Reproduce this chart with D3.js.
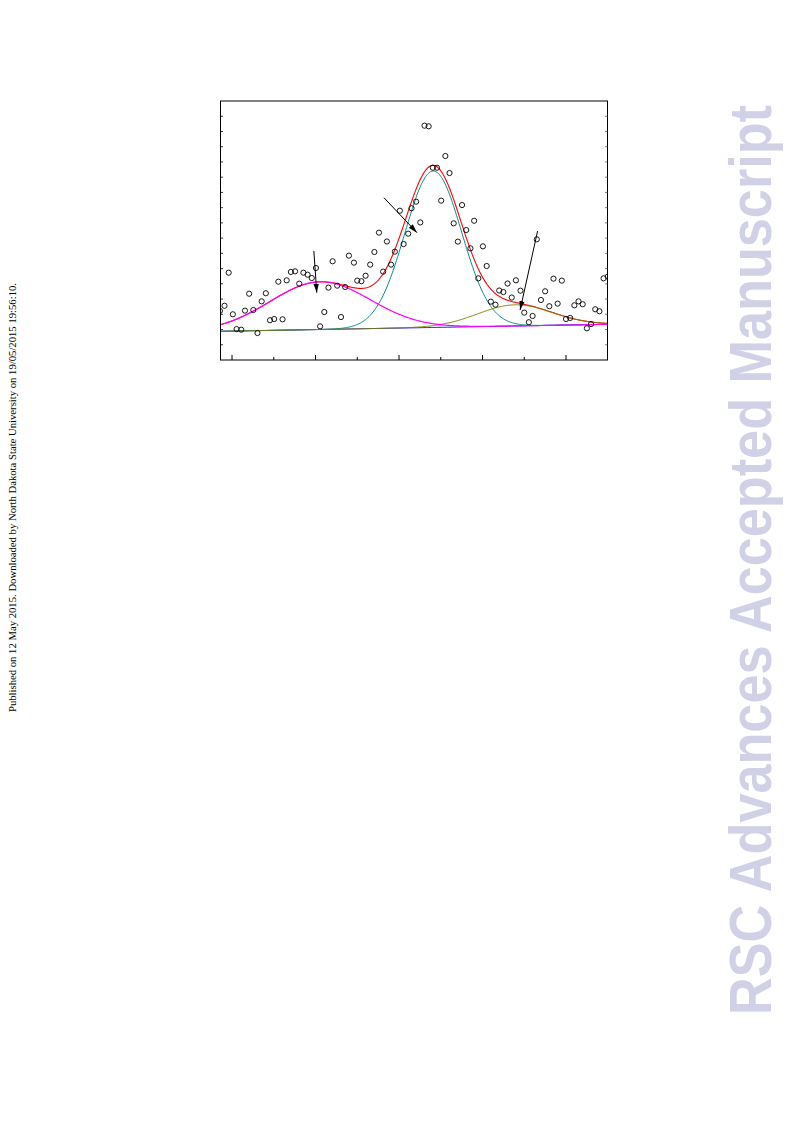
<!DOCTYPE html>
<html>
<head>
<meta charset="utf-8">
<script src="https://cdn.jsdelivr.net/npm/d3@7"></script>
<style>
  html, body { margin: 0; padding: 0; background: #fff; }
  svg { display: block; }
</style>
</head>
<body>
<script>
// ---- data ----
const xValues = [0.71,0.82,0.92,1.02,1.11,1.22,1.31,1.41,1.51,1.61,
  1.71,1.81,1.91,2.01,2.11,2.21,2.31,2.41,2.51,2.61,
  2.71,2.81,2.91,3.01,3.11,3.21,3.31,3.41,3.52,3.61,
  3.71,3.80,3.92,4.00,4.10,4.20,4.31,4.41,4.52,4.62,
  4.71,4.81,4.90,5.02,5.11,5.22,5.30,5.41,5.51,5.61,
  5.71,5.81,5.91,6.01,6.11,6.21,6.31,6.41,6.51,6.61,
  6.71,6.80,6.90,7.01,7.10,7.20,7.31,7.40,7.50,7.60,
  7.70,7.80,7.91,8.00,8.11,8.20,8.30,8.40,8.50,8.60,
  8.70,8.80,8.90,9.00,9.10,9.20,9.30,9.40,9.50,9.60,
  9.70,9.80,9.90,10.00];
const yValues = [3.22,3.56,5.73,3.00,2.03,1.99,3.24,4.35,3.28,1.77,
  3.85,4.38,2.61,2.69,5.14,2.67,5.23,5.78,5.82,5.01,
  5.73,5.60,5.38,6.04,2.21,3.15,4.75,6.48,4.88,2.82,
  4.79,6.85,6.39,5.21,5.17,5.53,6.26,7.09,8.36,5.80,
  7.78,6.26,7.11,9.80,7.61,8.29,9.96,10.39,9.03,15.38,
  15.34,12.62,12.62,10.46,13.39,12.27,8.97,7.77,10.17,8.53,
  7.33,9.14,5.36,7.46,6.17,3.83,3.63,4.56,4.46,5.02,
  4.10,5.23,4.55,3.11,2.48,2.89,7.92,3.94,4.51,3.53,
  5.34,3.70,5.21,2.69,2.76,3.59,3.85,3.66,2.08,2.36,
  3.33,3.20,5.36,5.47];

// fitted components: linear baseline + three Gaussian peaks
const baselineIntercept = 1.849;
const baselineSlope = 0.0494;
const peakNames   = ["left", "middle", "right"];
const peakCenters = [3.11, 5.82, 7.78];
const peakAmps    = [3.13, 10.27, 1.39];
const peakSigmas  = [1.20, 0.68, 0.89];
const peakColors  = ["#ff00ff", "#008b8b", "#808000"];

// x tick values (odd = long ticks), y tick values
const xTicks = [1,2,3,4,5,6,7,8,9];
const yTicks = [1,2,3,4,5,6,7,8,9,10,11,12,13,14,15,16];

// arrows: [x0, y0, x1, y1] in data units
const arrows = [
  [2.96, 7.16, 3.03, 4.42],
  [4.64, 10.65, 5.43, 8.36],
  [8.32, 8.47, 7.90, 3.28]
];

const sideNote = "Published on 12 May 2015. Downloaded by North Dakota State University on 19/05/2015 19:56:10.";
const watermark = "RSC Advances Accepted Manuscript";

// ---- drawing ----
const W = 793, H = 1123;
const L = 220.5, R = 607.5, T = 101, B = 360;

const svg = d3.select("body").append("svg").attr("width", W).attr("height", H);

const x = d3.scaleLinear().domain([0.712, 10.0]).range([220, 607.75]);
const y = d3.scaleLinear().domain([0, 17]).range([B, T]);

svg.append("defs").append("clipPath").attr("id", "plotclip")
  .append("rect").attr("x", L).attr("y", T).attr("width", R - L).attr("height", B - T);

svg.select("defs").append("marker")
  .attr("id", "arrowhead").attr("viewBox", "0 0 10 6")
  .attr("refX", 10).attr("refY", 3)
  .attr("markerWidth", 9).attr("markerHeight", 5.4)
  .attr("markerUnits", "userSpaceOnUse")
  .attr("orient", "auto")
  .append("path").attr("d", "M0,0 L10,3 L0,6 Z").attr("fill", "#000");

const plot = svg.append("g").attr("clip-path", "url(#plotclip)");

const baseline = xv => baselineIntercept + baselineSlope * xv;
const gauss = (xv, i) => peakAmps[i] * Math.exp(-Math.pow(xv - peakCenters[i], 2) / (2 * peakSigmas[i] * peakSigmas[i]));

const xs = d3.range(0.70, 10.02, 0.02);
const line = d3.line().x(d => x(d[0])).y(d => y(d[1]));

// baseline (blue)
plot.append("path").attr("d", line(xs.map(v => [v, baseline(v)])))
  .attr("fill", "none").attr("stroke", "#0000ff").attr("stroke-width", 1);

// sum (red)
plot.append("path").attr("d", line(xs.map(v => [v, baseline(v) + gauss(v,0) + gauss(v,1) + gauss(v,2)])))
  .attr("fill", "none").attr("stroke", "#ff0000").attr("stroke-width", 1.1);

// components: teal, olive, magenta order (drawn over the sum)
[1, 2, 0].forEach(i => {
  plot.append("path").attr("d", line(xs.map(v => [v, baseline(v) + gauss(v, i)])))
    .attr("fill", "none").attr("stroke", peakColors[i]).attr("stroke-width", i === 0 ? 1.2 : 1);
});

// data points
plot.selectAll("circle.pt").data(xValues.map((v, i) => [v, yValues[i]]))
  .enter().append("circle").attr("class", "pt")
  .attr("cx", d => x(d[0])).attr("cy", d => y(d[1])).attr("r", 2.6)
  .attr("fill", "none").attr("stroke", "#000").attr("stroke-width", 0.9);

// arrows
svg.selectAll("line.arrow").data(arrows).enter().append("line").attr("class", "arrow")
  .attr("x1", d => x(d[0])).attr("y1", d => y(d[1]))
  .attr("x2", d => x(d[2])).attr("y2", d => y(d[3]))
  .attr("stroke", "#000").attr("stroke-width", 1)
  .attr("marker-end", "url(#arrowhead)");

// frame
svg.append("rect").attr("x", L).attr("y", T).attr("width", R - L).attr("height", B - T)
  .attr("fill", "none").attr("stroke", "#000").attr("stroke-width", 1);

// bottom ticks (inward)
svg.append("g").selectAll("line").data(xTicks).enter().append("line")
  .attr("x1", d => x(d)).attr("x2", d => x(d))
  .attr("y1", B).attr("y2", d => B - (d % 2 === 1 ? 5 : 3))
  .attr("stroke", "#000").attr("stroke-width", 1);

// left and right ticks (inward)
svg.append("g").selectAll("line").data(yTicks).enter().append("line")
  .attr("x1", L).attr("x2", L + 2.5)
  .attr("y1", d => y(d)).attr("y2", d => y(d))
  .attr("stroke", "#000").attr("stroke-width", 0.8);
svg.append("g").selectAll("line").data(yTicks).enter().append("line")
  .attr("x1", R).attr("x2", R - 2.5)
  .attr("y1", d => y(d)).attr("y2", d => y(d))
  .attr("stroke", "#555").attr("stroke-width", 0.8);

// side note (left, rotated)
svg.append("text")
  .attr("transform", "translate(16,712) rotate(-90)")
  .attr("font-family", "'Liberation Serif', 'Times New Roman', serif")
  .attr("font-size", 10.3)
  .attr("fill", "#000")
  .attr("textLength", 429).attr("lengthAdjust", "spacingAndGlyphs")
  .text(sideNote);

// watermark (right, rotated)
svg.append("text")
  .attr("transform", "translate(771,1015) rotate(-90)")
  .attr("font-family", "'Liberation Sans', Arial, sans-serif")
  .attr("font-weight", "bold")
  .attr("font-size", 59)
  .attr("fill", "#d0d0e6")
  .attr("textLength", 910).attr("lengthAdjust", "spacingAndGlyphs")
  .text(watermark);
</script>
</body>
</html>
